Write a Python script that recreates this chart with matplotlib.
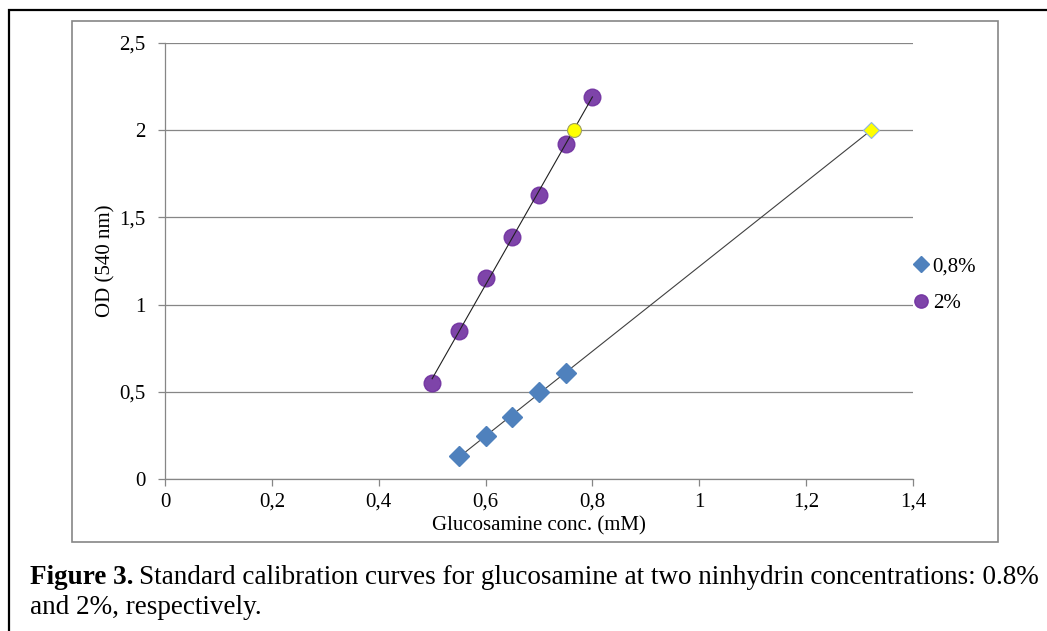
import matplotlib.pyplot as plt
import numpy as np
from matplotlib.patches import Rectangle
from matplotlib.ticker import FuncFormatter, MultipleLocator

plt.rcParams['font.family'] = ['Liberation Serif', 'DejaVu Serif']

# data
conc_08 = [0.55, 0.60, 0.65, 0.70, 0.75]
od_08 = [0.13, 0.245, 0.355, 0.50, 0.61]
conc_2 = [0.50, 0.55, 0.60, 0.65, 0.70, 0.75, 0.80]
od_2 = [0.55, 0.85, 1.15, 1.39, 1.63, 1.92, 2.19]
target_od = 2.0

W, H = 1047, 631
fig = plt.figure(figsize=(W / 100, H / 100), dpi=100)

# outer black frame and inner gray chart frame
fig.add_artist(Rectangle((9 / W, 1 - 700 / H), 1100 / W, 690 / H, transform=fig.transFigure,
                         fill=False, edgecolor='black', lw=1.6))
fig.add_artist(Rectangle((72 / W, 1 - 542 / H), 926 / W, 521 / H, transform=fig.transFigure,
                         fill=False, edgecolor='#868686', lw=1.2))

ax = fig.add_axes([165 / W, 1 - 479 / H, 748 / W, 436 / H])
ax.set_xlim(0, 1.4)
ax.set_ylim(0, 2.5)

gray = '#868686'
for s in ['top', 'right']:
    ax.spines[s].set_visible(False)
for s in ['left', 'bottom']:
    ax.spines[s].set_color(gray)
    ax.spines[s].set_linewidth(0.9)
ax.yaxis.grid(True, color=gray, lw=0.9)
ax.set_axisbelow(True)
ax.xaxis.set_major_locator(MultipleLocator(0.2))
ax.yaxis.set_major_locator(MultipleLocator(0.5))
comma = FuncFormatter(lambda v, p: ('%g' % round(v, 2)).replace('.', ','))
ax.xaxis.set_major_formatter(comma)
ax.yaxis.set_major_formatter(comma)
ax.tick_params(axis='both', direction='out', length=5, width=0.9, color=gray,
               labelsize=15, labelcolor='black')
ax.tick_params(axis='y', pad=9)
ax.tick_params(axis='x', pad=5)

# linear trendlines
m1, b1 = np.polyfit(conc_08, od_08, 1)
m2, b2 = np.polyfit(conc_2, od_2, 1)
x1_end = (target_od - b1) / m1
x2_hit = (target_od - b2) / m2
xs1 = np.array([min(conc_08), x1_end])
xs2 = np.array([min(conc_2), max(conc_2)])
ax.plot(xs1, m1 * xs1 + b1, color='#404040', lw=0.8, zorder=2)
ax.plot(xs2, m2 * xs2 + b2, color='#202020', lw=0.8, zorder=4)

ax.plot(conc_08, od_08, 'D', color='#4F81BD', ms=10.5, mec='#4F81BD', ls='none',
        label='0,8%', zorder=3)
ax.plot(conc_2, od_2, 'o', color='#7030A0', ms=12, mec='#7030A0', alpha=0.9, ls='none',
        label='2%', zorder=3)
ax.plot([x1_end], [target_od], 'D', color='#FFFF00', ms=8, mec='#8EB4E3', mew=0.8, zorder=5)
ax.plot([x2_hit], [target_od], 'o', color='#FFFF00', ms=10, mec='#A0A060', mew=0.8, zorder=5)

ax.set_xlabel('Glucosamine conc. (mM)', fontsize=15, labelpad=3)
ax.set_ylabel('OD (540 nm)', fontsize=15, labelpad=3)

leg = ax.legend(loc='center left', bbox_to_anchor=(0.997, 0.445), frameon=False,
                fontsize=15, handletextpad=0.05, handlelength=1.0, labelspacing=0.85,
                borderaxespad=0.0, borderpad=0.0, markerscale=0.8)

# caption
renderer = fig.canvas.get_renderer()
t1 = fig.text(30 / W, 1 - 577 / H, 'Figure 3.', fontsize=19.5, fontweight='bold', va='center')
bb = t1.get_window_extent(renderer)
fig.text(bb.x1 / W + 6 / W, 1 - 577 / H,
         'Standard calibration curves for glucosamine at two ninhydrin concentrations: 0.8%',
         fontsize=19.5, va='center')
fig.text(30 / W, 1 - 607 / H, 'and 2%, respectively.', fontsize=19.5, va='center')

fig.savefig('out.png', dpi=100)
